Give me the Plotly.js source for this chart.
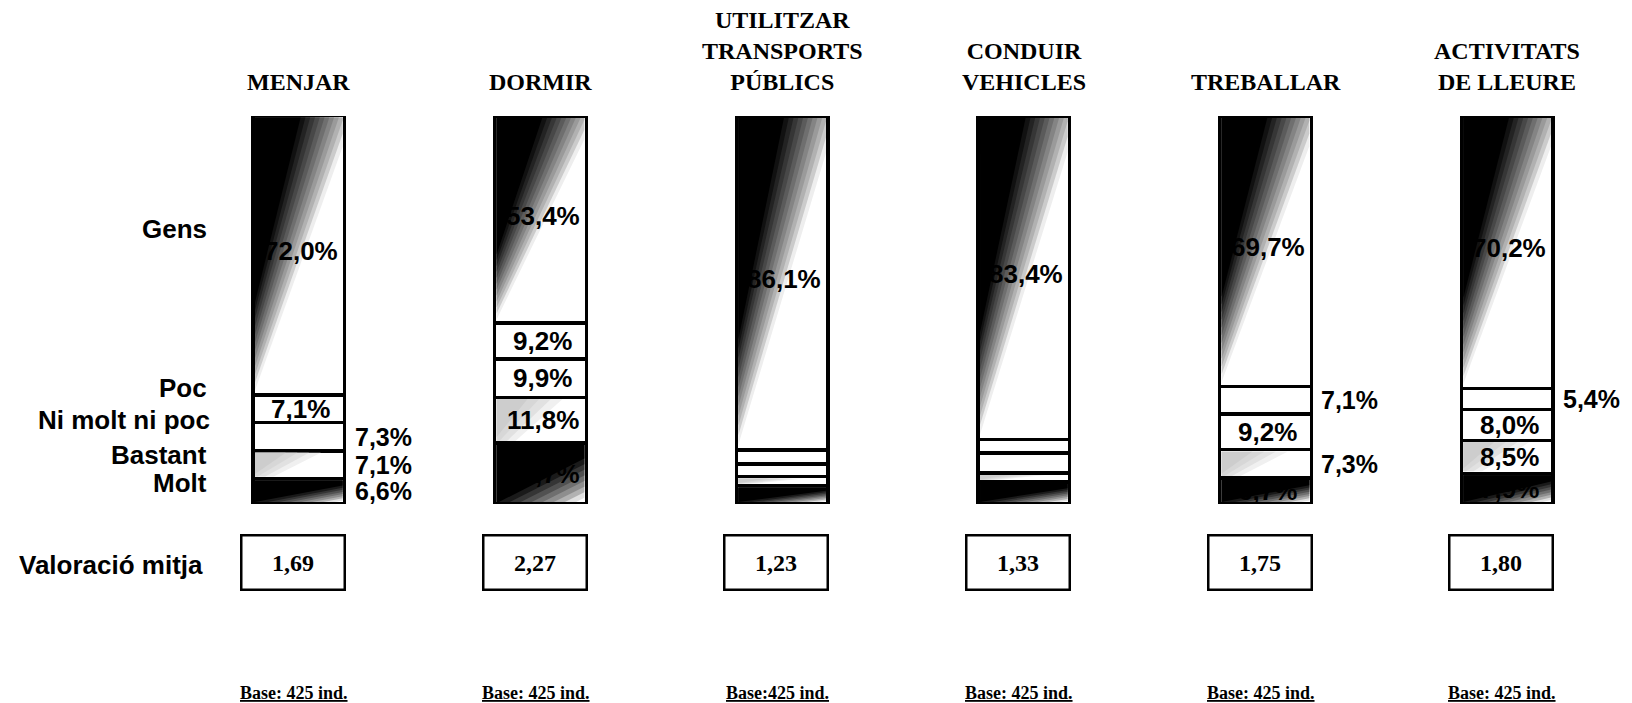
<!DOCTYPE html>
<html><head><meta charset="utf-8">
<script src="https://cdn.plot.ly/plotly-3.0.1.min.js"></script>
<style>html,body{margin:0;padding:0;background:#fff}#chart{width:1632px;height:703px}</style>
</head><body><div id="chart"></div>
<script>
// ---- data ----
const categories = ['MENJAR','DORMIR','UTILITZAR<br>TRANSPORTS<br>PÚBLICS','CONDUIR<br>VEHICLES','TREBALLAR','ACTIVITATS<br>DE LLEURE'];
const levels = ['Molt','Bastant','Ni molt ni poc','Poc','Gens'];
const molt        = [6.6, 15.7, 4.8, 5.7, 6.7, 7.9];
const bastant     = [7.1, 11.8, 2.3, 2.3, 7.3, 8.5];
const niMoltNiPoc = [7.3,  9.9, 3.2, 5.2, 9.2, 8.0];
const poc         = [7.1,  9.2, 3.6, 3.4, 7.1, 5.4];
const gens        = [72.0, 53.4, 86.1, 83.4, 69.7, 70.2];
const valoracio   = [1.69, 2.27, 1.23, 1.33, 1.75, 1.80];
const bases = ['Base: 425 ind.','Base: 425 ind.','Base:425 ind.','Base: 425 ind.','Base: 425 ind.','Base: 425 ind.'];
const valoracioLabel = 'Valoració mitja';

// ---- styling / placement (not data) ----
const series = [molt, bastant, niMoltNiPoc, poc, gens];
const labelPlace = [
  ['out','in','none','none','in','in'],   // Molt
  ['out','in','none','none','out','in'],  // Bastant
  ['out','in','none','none','in','in'],   // Ni molt ni poc
  ['in','in','none','none','out','out'],  // Poc
  ['in','in','in','in','in','in']         // Gens
];
const BW = 0.379;
const PLOT_T = 116, PLOT_B = 504, PLOT_H = PLOT_B - PLOT_T;
const PLOT_L = 178, PLOT_R = 4, PLOT_W = 1632 - PLOT_L - PLOT_R;
const UX = PLOT_W / 6;
const UY = PLOT_H / 100;
const py = p => (PLOT_B - p) / PLOT_H;

const sans = 'Liberation Sans, Arial, sans-serif';
const serif = 'Liberation Serif, Times New Roman, serif';
const fmt = v => v.toFixed(1).replace('.', ',') + '%';

const xs = categories.map((c, i) => i);
const traces = [];
series.forEach((s, k) => {
  traces.push({
    type: 'bar', x: xs, y: s, width: BW, name: levels[k],
    marker: {color: 'white', line: {color: 'black', width: 3.5}},
    hoverinfo: 'skip', showlegend: false
  });
});

// smooth diagonal dark-to-light shading: interpolate from the light edge to the dark core
function ramp(light, dark, n, cLight, cDark) {
  const out = [];
  for (let s = 0; s < n; s++) {
    const t = s / (n - 1);
    const a = light[0] + (dark[0] - light[0]) * t;
    const b = light[1] + (dark[1] - light[1]) * t;
    const g = Math.round(cLight + (cDark - cLight) * Math.pow(t, 0.8));
    out.push([`rgb(${g},${g},${g})`, a, b]);
  }
  return out;
}
const shade = {
  4: ramp([1.12, 0.99], [0.52, 0.67], 12, 238, 0),
  1: ramp([0.75, 1.4], [0.35, 0.9], 4, 240, 205),
  0: ramp([2.2, 1.7], [1.3, 1.02], 8, 225, 0)
};
function clipPoly(a, b) {
  const sq = [[0,0],[1,0],[1,1],[0,1]];
  const f = p => p[0]/a + p[1]/b - 1;
  const out = [];
  for (let j = 0; j < 4; j++) {
    const P = sq[j], Q = sq[(j+1)%4];
    const fp = f(P), fq = f(Q);
    if (fp <= 0) out.push(P);
    if ((fp < 0 && fq > 0) || (fp > 0 && fq < 0)) {
      const t = fp / (fp - fq);
      out.push([P[0] + t*(Q[0]-P[0]), P[1] + t*(Q[1]-P[1])]);
    }
  }
  return out;
}
const insX = 2 / UX, insY = 2 / UY;
xs.forEach(i => {
  let base = 0;
  series.forEach((s, k) => {
    const bot = base, top = base + s[i];
    base = top;
    if (!shade[k]) return;
    const xL = i - BW/2 + insX, xR = i + BW/2 - insX;
    const yT = top - insY, yB = bot + insY;
    shade[k].forEach(([col, a, b]) => {
      const poly = clipPoly(a, b);
      if (poly.length < 3) return;
      poly.push(poly[0]);
      traces.push({
        type: 'scatter', mode: 'lines', fill: 'toself', fillcolor: col,
        line: {width: 0, color: col},
        x: poly.map(p => xL + p[0]*(xR - xL)),
        y: poly.map(p => yT - p[1]*(yT - yB)),
        hoverinfo: 'skip', showlegend: false
      });
    });
  });
});

const ann = [];
// value labels
xs.forEach(i => {
  let base = 0;
  series.forEach((s, k) => {
    const mid = base + s[i] / 2;
    base += s[i];
    const place = labelPlace[k][i];
    if (place === 'none') return;
    const a = {
      x: i, y: mid, xref: 'x', yref: 'y', text: fmt(s[i]), showarrow: false, borderpad: 0,
      font: {family: sans, size: 26, color: 'black', weight: 700}
    };
    if (place === 'out') { a.x = i + BW/2; a.xanchor = 'left'; a.xshift = 9; a.font.size = 25; }
    else { a.xanchor = 'center'; a.xshift = 2; }
    if (k === 4) a.yshift = 4;
    ann.push(a);
  });
});
// category titles
categories.forEach((c, i) => ann.push({
  x: i, xref: 'x', y: 1, yref: 'paper', yanchor: 'bottom', yshift: 19,
  text: c, showarrow: false, align: 'center',
  font: {family: serif, size: 24, color: 'black', weight: 700}
}));
// mean boxes
valoracio.forEach((v, i) => ann.push({
  x: i, xref: 'x', xshift: -6, y: py(562), yref: 'paper', yanchor: 'middle',
  text: v.toFixed(2).replace('.', ','), showarrow: false,
  width: 101, height: 52, borderpad: 0, borderwidth: 2.5, bordercolor: 'black', bgcolor: 'white',
  font: {family: serif, size: 24, color: 'black', weight: 700}
}));
// base labels
bases.forEach((b, i) => ann.push({
  x: i, xref: 'x', xshift: -5, y: py(693), yref: 'paper', yanchor: 'middle',
  text: b, showarrow: false,
  font: {family: serif, size: 18, color: 'black', weight: 700, lineposition: 'under'}
}));
// row labels on the left
const rowLabelPx = [483, 455, 420, 388, 229];
levels.forEach((l, k) => ann.push({
  x: 0, xref: 'paper', xanchor: 'right', xshift: k === 2 ? 33 : 30,
  y: py(rowLabelPx[k]), yref: 'paper', yanchor: 'middle',
  text: l, showarrow: false, borderpad: 0,
  font: {family: sans, size: 26, color: 'black', weight: 700}
}));
ann.push({
  x: 0, xref: 'paper', xanchor: 'right', xshift: 27,
  y: py(565), yref: 'paper', yanchor: 'middle',
  text: valoracioLabel, showarrow: false,
  font: {family: sans, size: 26, color: 'black', weight: 700}
});

const layout = {
  width: 1632, height: 703,
  margin: {l: PLOT_L, r: PLOT_R, t: PLOT_T, b: 703 - PLOT_B},
  paper_bgcolor: 'white', plot_bgcolor: 'white',
  barmode: 'stack', showlegend: false,
  xaxis: {range: [-0.5, 5.5], visible: false, fixedrange: true},
  yaxis: {range: [0, 100], visible: false, fixedrange: true},
  annotations: ann
};
Plotly.newPlot('chart', traces, layout, {staticPlot: true, displayModeBar: false});
</script></body></html>
